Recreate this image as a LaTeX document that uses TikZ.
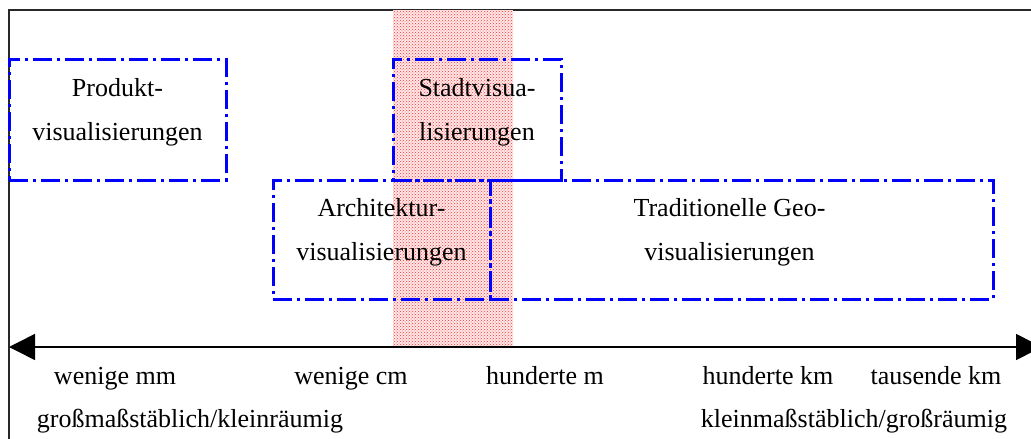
\documentclass[tikz,border=0pt]{standalone}
\usepackage{fontspec}
\setmainfont{Liberation Serif}
\usepackage{tikz}
\usepackage{xcolor}
\usetikzlibrary{arrows.meta,patterns}
\definecolor{frameColor}{RGB}{40, 40, 40}
\definecolor{groupColor}{RGB}{0, 0, 255}
\definecolor{bandColor}{RGB}{255, 232, 232}

\begin{document}
\begin{tikzpicture}[
		x=1pt, y=-1pt,
		% Define styles for nodes
		groupbox/.style={
				draw=groupColor,
				rectangle,
				line width=3pt,
				dash pattern=on 19pt off 5pt on 3pt off 5pt,
				inner sep=0pt
			},
		grouptext/.style={
				align=center,
				inner sep=0pt,
				font=\fontsize{26}{44}\selectfont
			},
		scaletext/.style={
				anchor=base,
				inner sep=0pt,
				font=\fontsize{26}{30}\selectfont
			},
		scalearrow/.style={
				{Triangle[length=26pt,width=26pt]}-{Triangle[length=26pt,width=26pt]},
				line width=1.5pt,
				draw=black
			}
	]

	\useasboundingbox (0,0) rectangle (1031,439);
	\clip (0,0) rectangle (1031,439);

	% Frame
	\draw[frameColor, line width=1.5pt] (9,439) -- (9,10) -- (1031,10);

	% Highlighted band
	\fill[bandColor] (393,10) rectangle (513,347);
	\fill[pattern=crosshatch dots, pattern color=red!80] (393,10) rectangle (513,347);

	% Groups
	\node[groupbox, minimum width=217pt, minimum height=121pt] (produkt) at (117.5,119.5) {};
	\node[groupbox, minimum width=168pt, minimum height=121pt] (stadt) at (477,119.5) {};
	\node[groupbox, minimum width=217pt, minimum height=119pt] (architektur) at (381.5,239.5) {};
	\node[groupbox, minimum width=503pt, minimum height=119pt] (geo) at (741.5,239.5) {};

	\node[grouptext] (produkttext) at ([yshift=7pt]produkt.center) {Produkt-\\visualisierungen};
	\node[grouptext] (stadttext) at ([yshift=7pt]stadt.center) {Stadtvisua-\\lisierungen};
	\node[grouptext] (architekturtext) at ([yshift=7pt]architektur.center) {Architektur-\\visualisierungen};
	\node[grouptext] (geotext) at ([xshift=-12pt,yshift=7pt]geo.center) {Traditionelle Geo-\\visualisierungen};

	% Scale axis
	\coordinate (axisleft) at (9,347);
	\coordinate (axisright) at (1042,347);
	\draw[scalearrow] (axisleft) -- (axisright);

	% Scale labels
	\node[scaletext] (mm) at (115,384) {wenige mm};
	\node[scaletext] (cm) at (351,384) {wenige cm};
	\node[scaletext] (m) at (545,384) {hunderte m};
	\node[scaletext] (km) at (768,384) {hunderte km};
	\node[scaletext] (tkm) at (936,384) {tausende km};

	\node[scaletext] (gross) at (190,427) {großmaßstäblich/kleinräumig};
	\node[scaletext] (klein) at (854,427) {kleinmaßstäblich/großräumig};

\end{tikzpicture}
\end{document}
